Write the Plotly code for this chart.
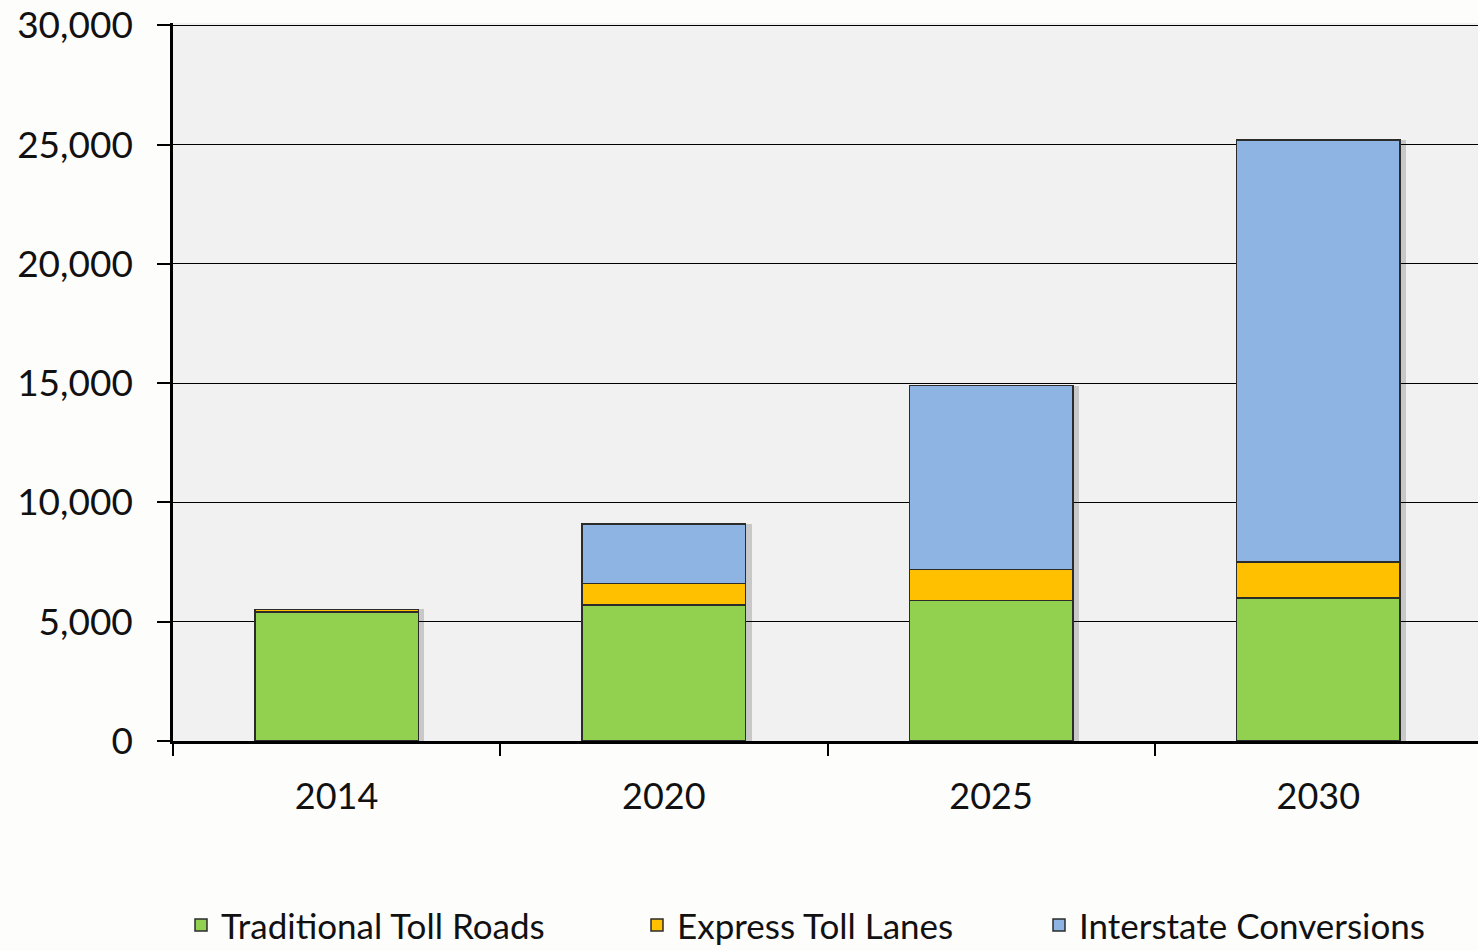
import plotly.graph_objects as go

years = ["2014", "2020", "2025", "2030"]
traditional = [5400, 5700, 5900, 6000]
express = [120, 900, 1300, 1500]
interstate = [0, 2500, 7700, 17700]

series_names = ["Traditional Toll Roads", "Express Toll Lanes", "Interstate Conversions"]
colors = ["#92D050", "#FFC000", "#8EB4E3"]

totals = [a + b + c for a, b, c in zip(traditional, express, interstate)]

fig = go.Figure()
# soft drop shadow behind the stacks (drawn on the base x axis)
fig.add_trace(go.Bar(
    x=years, y=totals, xaxis="x", yaxis="y", showlegend=False, hoverinfo="skip",
    width=0.5, offset=-0.25 + 6 / 327,
    marker=dict(color="rgba(0,0,0,0.17)", line=dict(width=0)),
))

legend_ids = ["legend", "legend2", "legend3"]
for name, vals, col, lg in zip(series_names, [traditional, express, interstate], colors, legend_ids):
    fig.add_trace(go.Bar(
        x=years, y=vals, name=name, xaxis="x2", yaxis="y", legend=lg,
        marker=dict(color=col, line=dict(color="#2b2b2b", width=1.5)),
    ))

legend_style = dict(
    orientation="h", xref="container", yref="container", y=0.027, yanchor="middle",
    xanchor="left", font=dict(size=35), bgcolor="rgba(0,0,0,0)",
)
fig.update_layout(
    barmode="stack",
    bargap=0.5,
    width=1482, height=951,
    margin=dict(l=173, r=0, t=23, b=210, autoexpand=False),
    paper_bgcolor="#FDFDFC",
    plot_bgcolor="#F1F1F2",
    font=dict(family="Lato", size=34, color="#111111"),
    showlegend=True,
    legend=dict(legend_style, x=(222 - 41) / 1482),
    legend2=dict(legend_style, x=(678 - 41) / 1482),
    legend3=dict(legend_style, x=(1080 - 41) / 1482),
    xaxis2=dict(overlaying="x", visible=False, matches="x"),
)
fig.update_layout(xaxis=dict(
    showline=True, linecolor="black", linewidth=2.5,
    ticks="outside", tickson="boundaries", ticklen=12, tickwidth=2, tickcolor="black",
    tickfont=dict(size=36),
    showgrid=False, automargin=False,
    ticklabelstandoff=22,
))
fig.update_yaxes(
    range=[0, 30100], tickvals=[0, 5000, 10000, 15000, 20000, 25000, 30000],
    tickformat=",d",
    showline=True, linecolor="black", linewidth=2.5,
    ticks="outside", ticklen=13, tickwidth=2, tickcolor="black",
    tickfont=dict(size=37),
    showgrid=True, gridcolor="black", gridwidth=1.2,
    zeroline=False, automargin=False,
    ticklabelstandoff=17, ticklabeloverflow="allow",
)
fig.write_html("out.html", config={"displayModeBar": False})

with open("out.html", "r", encoding="utf-8") as f:
    html = f.read()
html = html.replace("<head>", "<head><style>html,body{margin:0;padding:0;overflow:hidden;}</style>", 1)
with open("out.html", "w", encoding="utf-8") as f:
    f.write(html)
